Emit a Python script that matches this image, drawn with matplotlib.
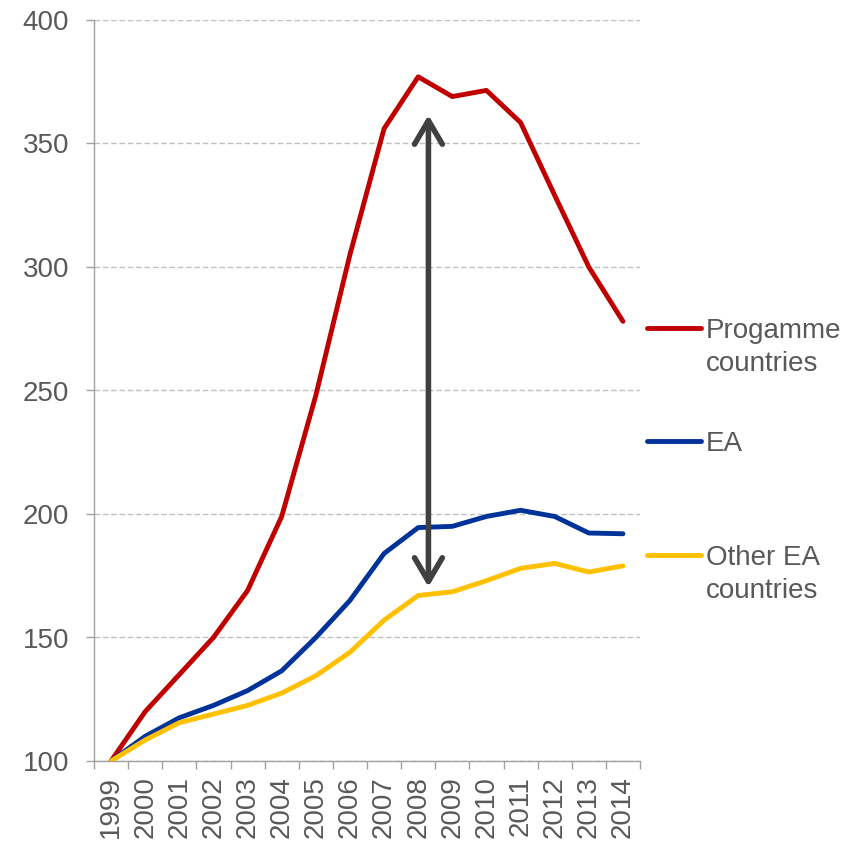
import numpy as np
import matplotlib.pyplot as plt
from matplotlib.lines import Line2D

plt.rcParams['font.family'] = ['Liberation Sans', 'DejaVu Sans']

years = [str(y) for y in range(1999, 2015)]
programme = [100, 120, 135, 150, 169, 199, 248, 305, 356, 377, 369, 371.5, 358.5, 329, 300, 278]
ea = [100, 110, 117.5, 122.5, 128.5, 136.5, 150, 165, 184, 194.5, 195, 199, 201.5, 199, 192.3, 192]
other_ea = [100, 108.5, 115.5, 119, 122.5, 127.5, 134.5, 144, 157, 167, 168.5, 173, 178, 180, 176.5, 179]

red = '#C00000'
blue = '#003399'
yellow = '#FFC000'
txt = '#595959'
fs = 20

fig = plt.figure(figsize=(8.65, 8.46), dpi=100)
ax = fig.add_axes([94/865, 85/846, 546/865, 741/846])

x = np.arange(len(years))
ax.plot(x, programme, color=red, lw=3.5, solid_capstyle='round', zorder=3)
ax.plot(x, ea, color=blue, lw=3.5, solid_capstyle='round', zorder=3)
ax.plot(x, other_ea, color=yellow, lw=3.5, solid_capstyle='round', zorder=3)

# gap arrow in 2008
ax.annotate('', xy=(9.3, 361.5), xytext=(9.3, 170.5),
            arrowprops=dict(arrowstyle='<->,head_length=0.85,head_width=0.5',
                            color='#404040', lw=4, mutation_scale=20,
                            shrinkA=0, shrinkB=0, capstyle='round', joinstyle='round'))

ax.set_xlim(-0.5, 15.5)
ax.set_ylim(100, 400)
ax.set_yticks(np.arange(100, 401, 50))
ax.yaxis.grid(True, linestyle=(0, (4, 2)), color='#C0C0C0', lw=1)
ax.set_axisbelow(True)

ax.set_xticks(x)
ax.set_xticklabels(years, rotation=90)
ax.set_xticks(np.arange(-0.5, 16, 1), minor=True)
ax.tick_params(axis='x', which='major', length=0, pad=11, labelsize=fs, labelcolor=txt)
ax.tick_params(axis='x', which='minor', length=6, width=1, color='#A0A0A0')
ax.tick_params(axis='y', length=6, width=1, color='#A0A0A0', labelsize=fs, labelcolor=txt, pad=12)

for s in ['top', 'right']:
    ax.spines[s].set_visible(False)
for s in ['left', 'bottom']:
    ax.spines[s].set_color('#A0A0A0')
    ax.spines[s].set_linewidth(1)

# legend on the right
W, H = 865, 846
entries = [(['Progamme', 'countries'], red, 328),
           (['EA'], blue, 441),
           (['Other EA', 'countries'], yellow, 555)]
for lines, c, yy in entries:
    fig.add_artist(Line2D([647/W, 701/W], [1 - yy/H, 1 - yy/H], color=c, lw=3.5,
                          solid_capstyle='round', transform=fig.transFigure))
    for i, s in enumerate(lines):
        fig.text(706/W, 1 - (yy + 10 + 33*i)/H, s, fontsize=fs, color=txt,
                 va='baseline', ha='left')

fig.savefig('out.png', dpi=100)
